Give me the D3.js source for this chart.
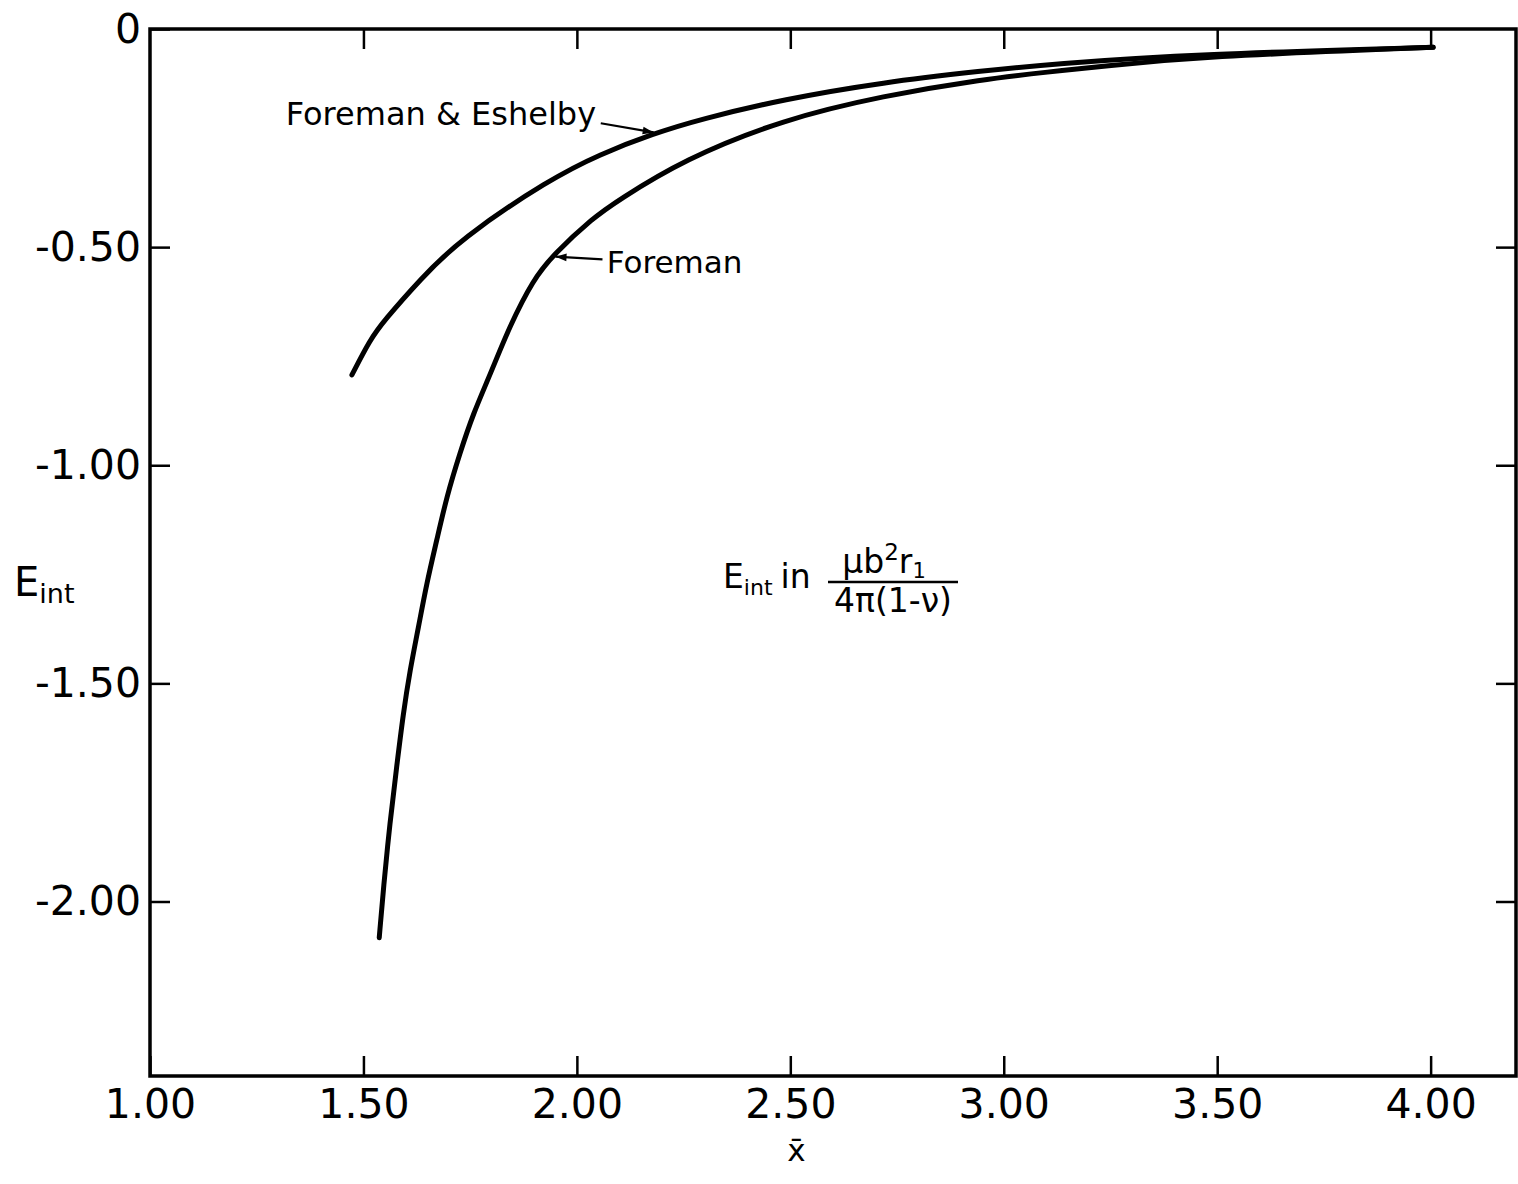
<!DOCTYPE html>
<html>
<head>
<meta charset="utf-8">
<script src="https://cdnjs.cloudflare.com/ajax/libs/d3/7.8.5/d3.min.js"></script>
<style>
  body { margin: 0; background: #fff; }
  text { font-family: "DejaVu Sans", sans-serif; fill: #000; }
</style>
</head>
<body>
<script>
// values
var xTicks = [1.0, 1.5, 2.0, 2.5, 3.0, 3.5, 4.0];
var xTickLabels = ["1.00", "1.50", "2.00", "2.50", "3.00", "3.50", "4.00"];
var yTicks = [0, -0.5, -1.0, -1.5, -2.0];
var yTickLabels = ["0", "-0.50", "-1.00", "-1.50", "-2.00"];

var foremanX = [1.537, 1.547, 1.562, 1.578, 1.593, 1.609, 1.629, 1.648, 1.672, 1.695, 1.726, 1.757,
                1.797, 1.843, 1.898, 1.945, 2.039, 2.093, 2.250, 2.484, 2.718, 2.952, 3.109, 3.226, 3.460, 4.006];
var foremanY = [-2.083, -1.968, -1.819, -1.690, -1.571, -1.470, -1.371, -1.271, -1.171, -1.072, -0.972, -0.882,
                -0.792, -0.680, -0.574, -0.517, -0.432, -0.395, -0.299, -0.207, -0.153, -0.115, -0.098, -0.086, -0.063, -0.042];

var eshelbyX = [1.473, 1.515, 1.547, 1.633, 1.726, 1.937, 2.054, 2.179, 2.289, 2.484, 2.718, 2.952, 3.109, 3.460, 4.006];
var eshelbyY = [-0.793, -0.713, -0.670, -0.574, -0.482, -0.344, -0.287, -0.240, -0.207, -0.161, -0.122, -0.096, -0.080, -0.057, -0.042];

function build() {
  var width = 1518, height = 1184;
  var left = 150, top = 29, right = 1516, bottom = 1076;

  var svg = d3.select("body").append("svg").attr("width", width).attr("height", height);

  var x = d3.scaleLinear().domain([1.0, 4.2]).range([left, right]);
  var y = d3.scaleLinear().domain([-2.4, 0]).range([bottom, top]);

  var defs = svg.append("defs");
  defs.append("marker")
      .attr("id", "arrow")
      .attr("viewBox", "0 0 10 10")
      .attr("refX", 10).attr("refY", 5)
      .attr("markerWidth", 7).attr("markerHeight", 5)
      .attr("markerUnits", "strokeWidth")
      .attr("orient", "auto")
      .append("path").attr("d", "M0,1.5 L10,5 L0,8.5 Z").attr("fill", "#000");

  // axes, ticks pointing inward on all four sides
  function style(g) {
    g.select(".domain").remove();
    g.selectAll(".tick line").attr("stroke", "#000").attr("stroke-width", 2.5);
    g.selectAll(".tick text").attr("font-size", 41).attr("fill", "#000");
  }

  svg.append("g").attr("transform", "translate(0," + bottom + ")")
     .call(d3.axisBottom(x).tickValues(xTicks).tickSize(-20).tickPadding(13)
       .tickFormat(function(d, i) { return xTickLabels[i]; }))
     .call(style);

  svg.append("g").attr("transform", "translate(0," + top + ")")
     .call(d3.axisTop(x).tickValues(xTicks.slice(1)).tickSize(-20).tickFormat(""))
     .call(style);

  svg.append("g").attr("transform", "translate(" + left + ",0)")
     .call(d3.axisLeft(y).tickValues(yTicks).tickSize(-20).tickPadding(9)
       .tickFormat(function(d, i) { return yTickLabels[i]; }))
     .call(style);

  svg.append("g").attr("transform", "translate(" + right + ",0)")
     .call(d3.axisRight(y).tickValues(yTicks.slice(1)).tickSize(-20).tickFormat(""))
     .call(style);

  svg.append("rect")
     .attr("x", left).attr("y", top)
     .attr("width", right - left).attr("height", bottom - top)
     .attr("fill", "none").attr("stroke", "#000").attr("stroke-width", 3.5);

  // curves
  var line = d3.line()
      .x(function(d) { return x(d[0]); })
      .y(function(d) { return y(d[1]); })
      .curve(d3.curveBasis);

  var series = [
    d3.zip(eshelbyX, eshelbyY),
    d3.zip(foremanX, foremanY)
  ];

  svg.selectAll(".curve")
     .data(series)
     .enter()
     .append("path")
     .attr("class", "curve")
     .attr("d", line)
     .attr("fill", "none")
     .attr("stroke", "#000")
     .attr("stroke-width", 5)
     .attr("stroke-linecap", "round")
     .attr("stroke-linejoin", "round");

  // curve labels with arrows
  svg.append("text")
     .attr("x", x(2.045)).attr("y", y(-0.22))
     .attr("text-anchor", "end")
     .attr("font-size", 32)
     .text("Foreman  & Eshelby");
  svg.append("line")
     .attr("x1", x(2.056)).attr("y1", y(-0.216))
     .attr("x2", x(2.18)).attr("y2", y(-0.237))
     .attr("stroke", "#000").attr("stroke-width", 2.2)
     .attr("marker-end", "url(#arrow)");

  svg.append("text")
     .attr("x", x(2.07)).attr("y", y(-0.56))
     .attr("font-size", 31)
     .text("Foreman");
  svg.append("line")
     .attr("x1", x(2.06)).attr("y1", y(-0.528))
     .attr("x2", x(1.95)).attr("y2", y(-0.522))
     .attr("stroke", "#000").attr("stroke-width", 2.2)
     .attr("marker-end", "url(#arrow)");

  // axis titles
  var yl = svg.append("text").attr("x", 14).attr("y", 596).attr("font-size", 40);
  yl.append("tspan").text("E");
  yl.append("tspan").attr("font-size", 27).attr("dy", 7).text("int");

  svg.append("text")
     .attr("x", x(2.5) + 6).attr("y", 1161)
     .attr("text-anchor", "middle")
     .attr("font-size", 31)
     .text("x\u0304");

  // units note
  var note = svg.append("g");
  var nt = note.append("text").attr("x", 723).attr("y", 588).attr("font-size", 33);
  nt.append("tspan").text("E");
  nt.append("tspan").attr("font-size", 22).attr("dy", 7).text("int");
  nt.append("tspan").attr("dy", -7).attr("dx", 8).text("in");

  note.append("line")
      .attr("x1", 828).attr("x2", 958).attr("y1", 582).attr("y2", 582)
      .attr("stroke", "#000").attr("stroke-width", 2.5);

  var num = note.append("text").attr("x", 884).attr("y", 573)
      .attr("text-anchor", "middle").attr("font-size", 33);
  num.append("tspan").text("\u03bcb");
  num.append("tspan").attr("font-size", 23).attr("dy", -13).text("2");
  num.append("tspan").attr("dy", 13).text("r");
  num.append("tspan").attr("font-size", 21).attr("dy", 5).text("1");

  note.append("text").attr("x", 893).attr("y", 612)
      .attr("text-anchor", "middle").attr("font-size", 33)
      .text("4\u03c0(1-\u03bd)");
}

build();
</script>
</body>
</html>
